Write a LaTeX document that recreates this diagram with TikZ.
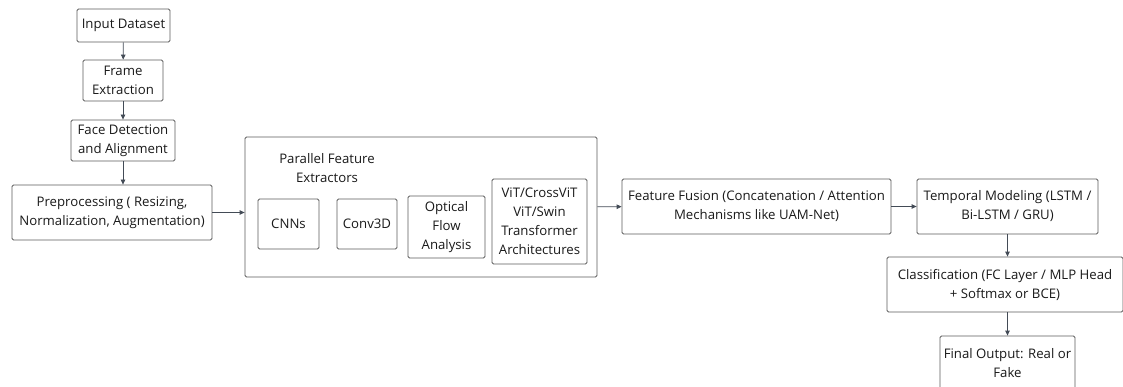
\documentclass[tikz,border=0pt]{standalone}
\usepackage{fontspec}
\setmainfont{Open Sans}
\usetikzlibrary{positioning,arrows.meta}
\definecolor{boxgray}{HTML}{5A5A5A}
\definecolor{arrowgray}{HTML}{434B56}

\begin{document}
\begin{tikzpicture}[x=1pt, y=-1pt, font=\fontsize{13.2}{19}\selectfont,
    box/.style = {draw=boxgray, rounded corners=1.5pt, line width=0.8pt, align=center, text=black!90, inner sep=1pt},
    flow/.style = {-{Triangle[length=5pt,width=4.5pt]}, line width=0.8pt, draw=arrowgray}]
    \useasboundingbox (0,0) rectangle (1123,387);
    % left column
    \node[box, minimum width=93, minimum height=33] (input) at (123.5,25.5) {Input Dataset};
    \node[box, minimum width=80, minimum height=41] (frame) at (123,80.5) {Frame\\Extraction};
    \node[box, minimum width=104, minimum height=41] (face) at (123,140.5) {Face Detection\\and Alignment};
    \node[box, minimum width=200, minimum height=55] (prep) at (112,212.5) {Preprocessing ( Resizing,\\Normalization, Augmentation)};
    % extractors
    \node[box, minimum width=352, minimum height=140] (group) at (421,207) {};
    \node[align=center, text=black!90] (grouplabel) at (327,168) {Parallel Feature\\Extractors};
    \node[box, minimum width=61, minimum height=50] (cnn) at (288.5,224) {CNNs};
    \node[box, minimum width=60, minimum height=50] (conv) at (367,224) {Conv3D};
    \node[box, minimum width=77, minimum height=62] (optical) at (446.5,227) {Optical\\Flow\\Analysis};
    \node[box, minimum width=95, minimum height=85] (vit) at (539.5,221.5) {ViT/CrossViT\\ViT/Swin\\Transformer\\Architectures};
    % right part
    \node[box, minimum width=269, minimum height=55] (fusion) at (756.5,206.5) {Feature Fusion (Concatenation / Attention\\Mechanisms like UAM-Net)};
    \node[box, minimum width=181, minimum height=55] (temporal) at (1007.5,206.5) {Temporal Modeling (LSTM /\\Bi-LSTM / GRU)};
    \node[box, minimum width=236, minimum height=55] (classif) at (1005,284.5) {Classification (FC Layer / MLP Head\\+ Softmax or BCE)};
    \node[box, minimum width=135, minimum height=54] (final) at (1007.5,363) {Final Output: Real or\\Fake};

    \draw[flow] (input) -- (frame);
    \draw[flow] (frame) -- (face);
    \draw[flow] (face.south) -- (face.south |- prep.north);
    \draw[flow] (prep.east) -- (prep.east -| group.west);
    \draw[flow] (group) -- (fusion);
    \draw[flow] (fusion) -- (temporal);
    \draw[flow] (temporal.south) -- (temporal.south |- classif.north);
    \draw[flow] (final.north |- classif.south) -- (final.north);
\end{tikzpicture}
\end{document}
